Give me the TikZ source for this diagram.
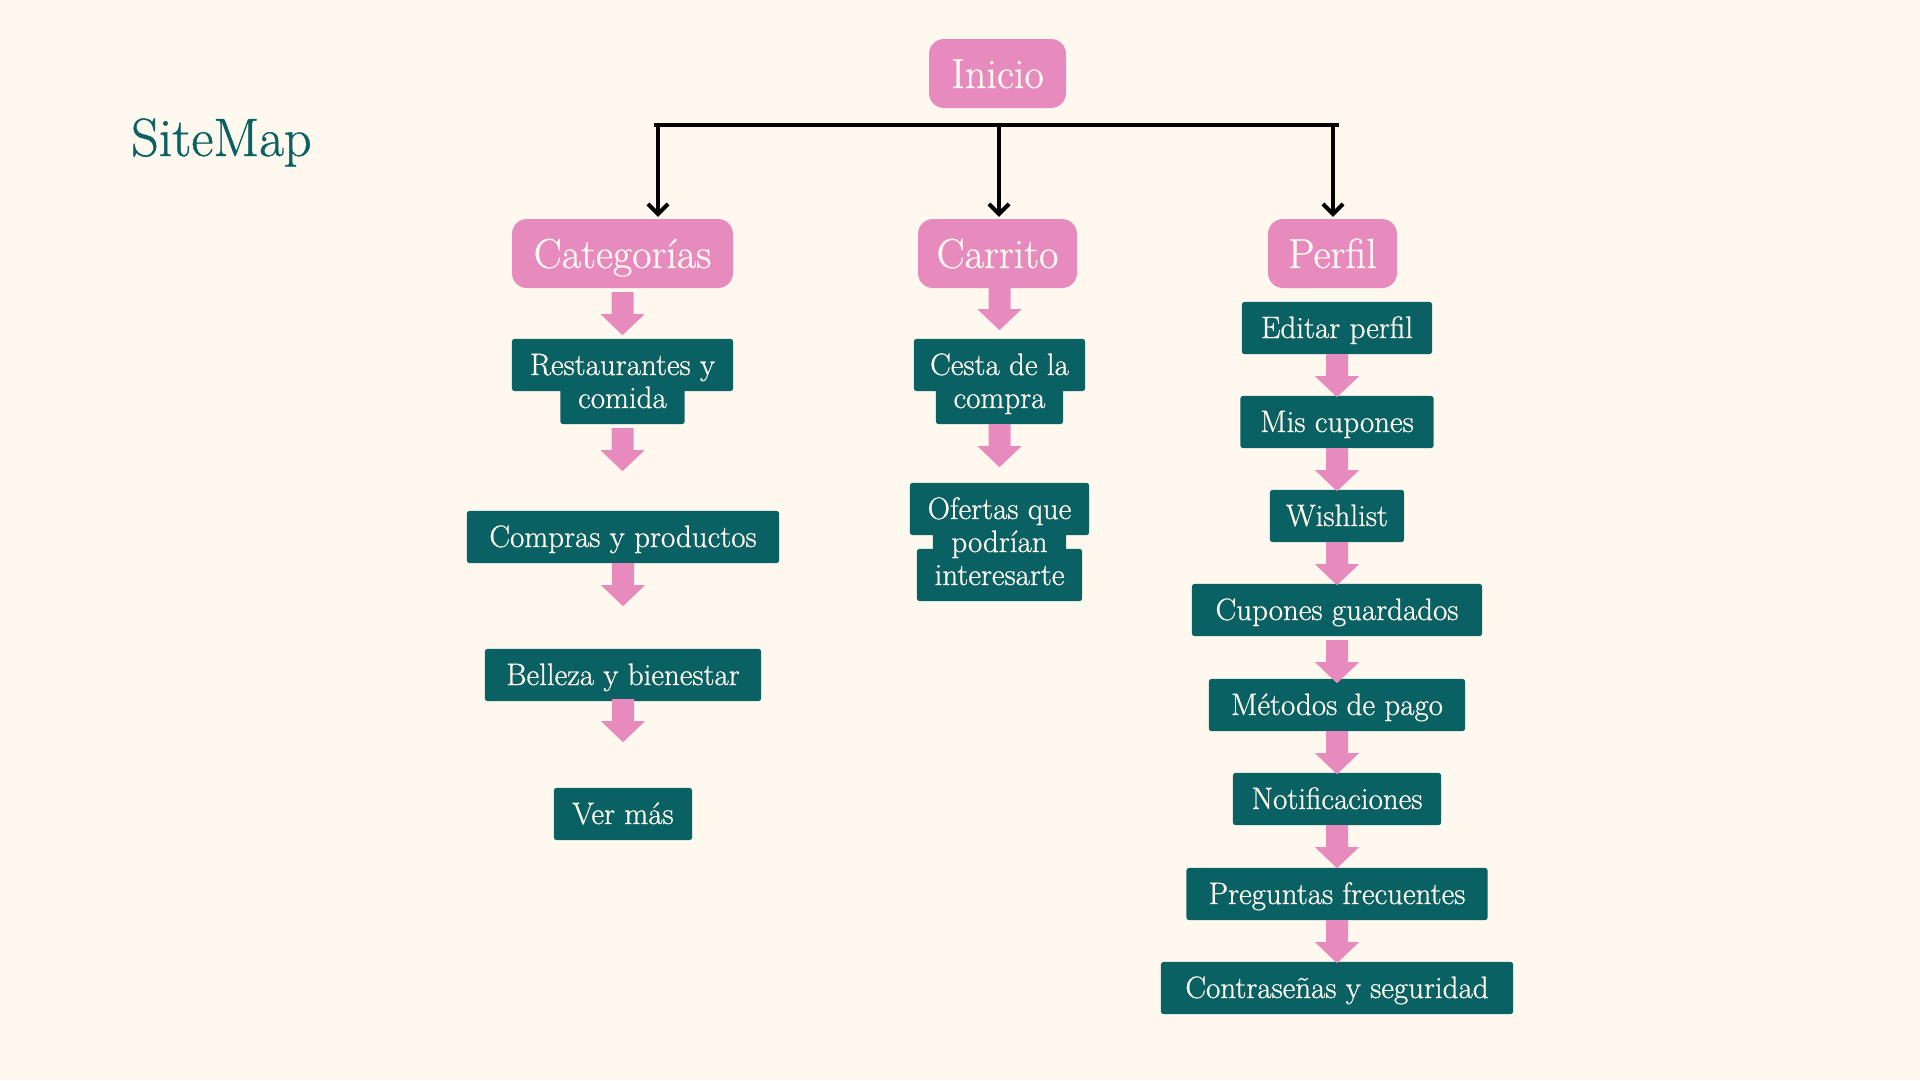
\documentclass[tikz,border=0pt]{standalone}
\usepackage{fontspec}
\newfontfamily\boxfont{Latin Modern Roman}[BoldFont={Latin Modern Roman}, BoldFeatures={FakeBold=0.8}]
\usetikzlibrary{arrows.meta,calc}
\definecolor{bgc}{HTML}{FEF8EE}
\definecolor{pinkc}{HTML}{E78BBF}
\definecolor{tealc}{HTML}{0A6164}
\definecolor{creamc}{HTML}{FFF8EE}
\pgfdeclarelayer{canvas}
\pgfdeclarelayer{boxes}
\pgfsetlayers{canvas,boxes,main}
\tikzset{
  tline/.style={rectangle, inner xsep=6pt, inner ysep=0pt, text height=36pt, text depth=16pt,
    text=creamc, font=\boxfont\bfseries\fontsize{31}{33}\selectfont, anchor=base},
  pbox/.style={rectangle, rounded corners=15pt, fill=pinkc, inner xsep=6pt, inner ysep=0pt,
    text height=49pt, text depth=20pt, text=creamc, font=\boxfont\bfseries\fontsize{42}{44}\selectfont, anchor=base},
  drop/.style={draw=black, line width=4pt, -{Straight Barb[length=10pt,width=20pt]}, shorten >=2pt},
  barline/.style={draw=black, line width=4pt, line cap=rect},
  blockarrow/.style={fill=pinkc},
  titlestyle/.style={anchor=base west, inner sep=0pt, text=tealc, font=\boxfont\bfseries\fontsize{54}{58}\selectfont},
}
% teal line box: name, x, baseline, min width, text
\newcommand\tealline[5]{%
  \node[tline, minimum width=#4pt] (#1) at (#2,#3) {#5};
  \begin{pgfonlayer}{boxes}
    \fill[tealc, rounded corners=3pt] (#1.south west) rectangle (#1.north east);
  \end{pgfonlayer}}
% pink block arrow below a node: node, gap
\newcommand\pinkarrow[2]{%
  \fill[blockarrow] ($(#1.south)+(0,#2)$) ++(-11,0) -- ++(22,0) -- ++(0,22) -- ++(11,0)
    -- ++(-22,21) -- ++(-22,-21) -- ++(11,0) -- cycle;}
\begin{document}
\begin{tikzpicture}[x=1pt,y=-1pt]
\useasboundingbox (0,0) rectangle (1920,1080);
\begin{pgfonlayer}{canvas}
  \fill[bgc] (0,0) rectangle (1920,1080);
\end{pgfonlayer}

\node[titlestyle] (title) at (131,156) {SiteMap};

% pink headers
\node[pbox, minimum width=137pt] (inicio) at (997.5,88) {Inicio};
\node[pbox, minimum width=221pt] (cat) at (622.5,268) {Categorías};
\node[pbox, minimum width=159pt] (car) at (997.5,268) {Carrito};
\node[pbox, minimum width=129pt] (per) at (1332.5,268) {Perfil};

% bar and drops
\coordinate (bl) at (656,125);
\coordinate (br) at (1337,125);
\coordinate (d1) at (658,125);
\coordinate (d2) at (999,125);
\coordinate (d3) at (1333,125);
\draw[barline] (bl) -- (br);
\draw[drop] (d1) -- (d1 |- cat.north);
\draw[drop] (d2) -- (d2 |- car.north);
\draw[drop] (d3) -- (d3 |- per.north);

% Categorias column
\tealline{rest1}{622.5}{375}{221}{Restaurantes y}
\tealline{rest2}{622.5}{408}{124}{comida}
\tealline{comp}{623}{547}{312}{Compras y productos}
\tealline{bell}{623}{685}{276}{Belleza y bienestar}
\tealline{ver}{623}{824}{138}{Ver más}
\pinkarrow{cat}{4}
\pinkarrow{rest2}{4}
\pinkarrow{comp}{0}
\pinkarrow{bell}{-2}

% Carrito column
\tealline{ces1}{999.5}{375}{171}{Cesta de la}
\tealline{ces2}{999.5}{408}{127}{compra}
\tealline{ofe1}{999.5}{519}{179}{Ofertas que}
\tealline{ofe2}{999.5}{552}{133}{podrían}
\tealline{ofe3}{999.5}{585}{165}{interesarte}
\fill[blockarrow] ($(car.south)+(2,0)$) ++(-11,0) -- ++(22,0) -- ++(0,21) -- ++(11,0)
    -- ++(-22,21) -- ++(-22,-21) -- ++(11,0) -- cycle;
\pinkarrow{ces2}{0}

% Perfil column
\tealline{edi}{1337}{338}{190}{Editar perfil}
\tealline{mis}{1337}{432}{193}{Mis cupones}
\tealline{wis}{1337}{526}{134}{Wishlist}
\tealline{cup}{1337}{620}{290}{Cupones guardados}
\tealline{met}{1337}{715}{256}{Métodos de pago}
\tealline{not}{1337}{809}{208}{Notificaciones}
\tealline{pre}{1337}{904}{301}{Preguntas frecuentes}
\tealline{con}{1337}{998}{352}{Contraseñas y seguridad}
\pinkarrow{edi}{0}
\pinkarrow{mis}{0}
\pinkarrow{wis}{0}
\pinkarrow{cup}{4}
\pinkarrow{met}{0}
\pinkarrow{not}{0}
\pinkarrow{pre}{0}
\end{tikzpicture}
\end{document}
